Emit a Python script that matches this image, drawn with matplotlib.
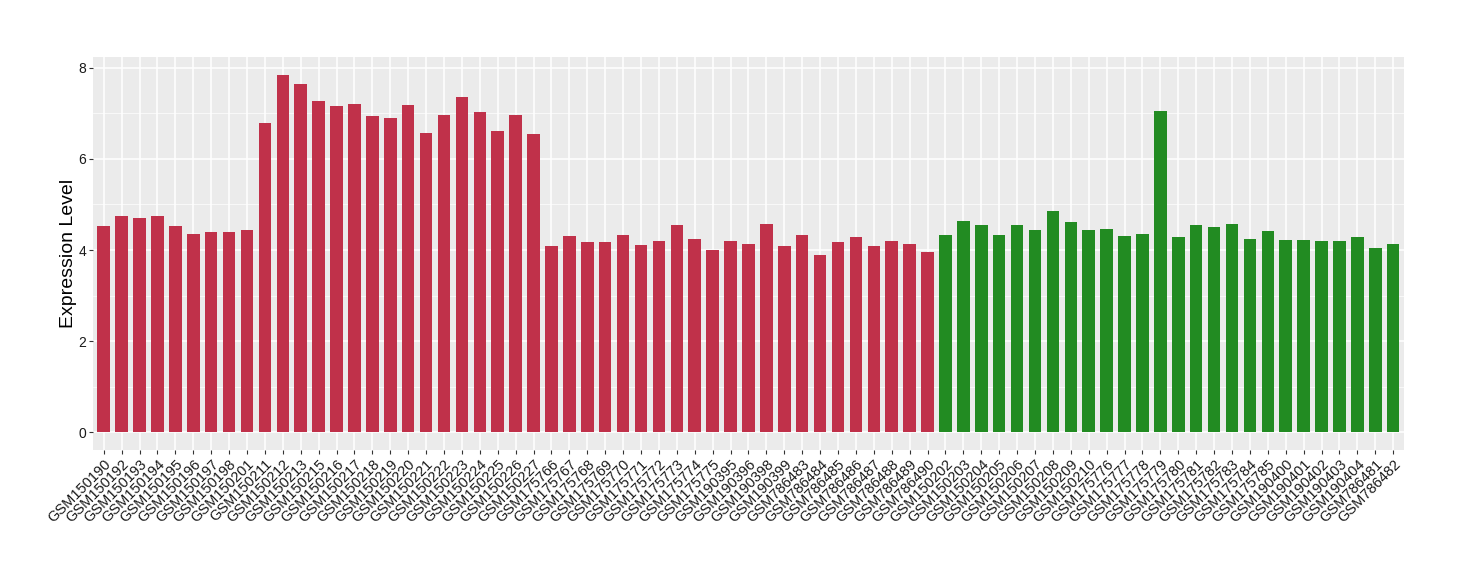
import matplotlib
matplotlib.use("Agg")
import matplotlib.pyplot as plt
import numpy as np

plt.rcParams['font.family'] = ['Liberation Sans', 'DejaVu Sans']

red_samples = [
    "GSM150190", "GSM150192", "GSM150193", "GSM150194", "GSM150195", "GSM150196",
    "GSM150197", "GSM150198", "GSM150201", "GSM150211", "GSM150212", "GSM150213",
    "GSM150215", "GSM150216", "GSM150217", "GSM150218", "GSM150219", "GSM150220",
    "GSM150221", "GSM150222", "GSM150223", "GSM150224", "GSM150225", "GSM150226",
    "GSM150227", "GSM175766", "GSM175767", "GSM175768", "GSM175769", "GSM175770",
    "GSM175771", "GSM175772", "GSM175773", "GSM175774", "GSM175775", "GSM190395",
    "GSM190396", "GSM190398", "GSM190399", "GSM786483", "GSM786484", "GSM786485",
    "GSM786486", "GSM786487", "GSM786488", "GSM786489", "GSM786490",
]
red_values = [
    4.52, 4.74, 4.71, 4.74, 4.52, 4.36, 4.39, 4.39, 4.43, 6.78, 7.85, 7.65,
    7.26, 7.17, 7.21, 6.95, 6.89, 7.19, 6.56, 6.97, 7.35, 7.04, 6.62, 6.97,
    6.54, 4.08, 4.30, 4.17, 4.17, 4.34, 4.10, 4.19, 4.56, 4.25, 4.01, 4.19,
    4.14, 4.58, 4.08, 4.32, 3.90, 4.17, 4.28, 4.08, 4.19, 4.14, 3.95,
]
green_samples = [
    "GSM150202", "GSM150203", "GSM150204", "GSM150205", "GSM150206", "GSM150207",
    "GSM150208", "GSM150209", "GSM150210", "GSM175776", "GSM175777", "GSM175778",
    "GSM175779", "GSM175780", "GSM175781", "GSM175782", "GSM175783", "GSM175784",
    "GSM175785", "GSM190400", "GSM190401", "GSM190402", "GSM190403", "GSM190404",
    "GSM786481", "GSM786482",
]
green_values = [
    4.32, 4.63, 4.54, 4.32, 4.56, 4.43, 4.85, 4.61, 4.43, 4.47, 4.30, 4.36,
    7.06, 4.28, 4.54, 4.50, 4.58, 4.25, 4.41, 4.23, 4.23, 4.19, 4.19, 4.28,
    4.04, 4.14,
]

RED = "#C0314A"
GREEN = "#228B22"

labels = red_samples + green_samples
values = red_values + green_values
colors = [RED] * len(red_values) + [GREEN] * len(green_values)
x = np.arange(len(labels))

fig = plt.figure(figsize=(14.6, 5.8), dpi=100)
ax = fig.add_axes([0.0637, 0.224, 0.8979, 0.678])
ax.set_facecolor("#EBEBEB")

ax.bar(x, values, width=0.7, color=colors, zorder=3)

ax.set_xlim(-0.6, len(labels) - 0.4)
ax.set_ylim(-0.39, 8.24)
ax.set_yticks([0, 2, 4, 6, 8])
ax.set_yticks([1, 3, 5, 7], minor=True)
ax.set_xticks(x)
ax.set_xticklabels(labels, rotation=45, ha="right", rotation_mode="anchor", fontsize=10.5)

ax.grid(True, which="major", color="white", linewidth=1.1, zorder=0)
ax.grid(True, which="minor", axis="y", color="white", linewidth=0.5, zorder=0)
ax.set_axisbelow(True)

for s in ax.spines.values():
    s.set_visible(False)
ax.tick_params(axis="both", which="major", length=3, color="#333333",
               labelsize=10.5, labelcolor="#1A1A1A", pad=2)
ax.tick_params(axis="y", which="minor", length=0)
ax.tick_params(axis="y", labelsize=10)

ax.set_ylabel("Expression Level", fontsize=14, labelpad=1)

fig.savefig("out.png", dpi=100)
